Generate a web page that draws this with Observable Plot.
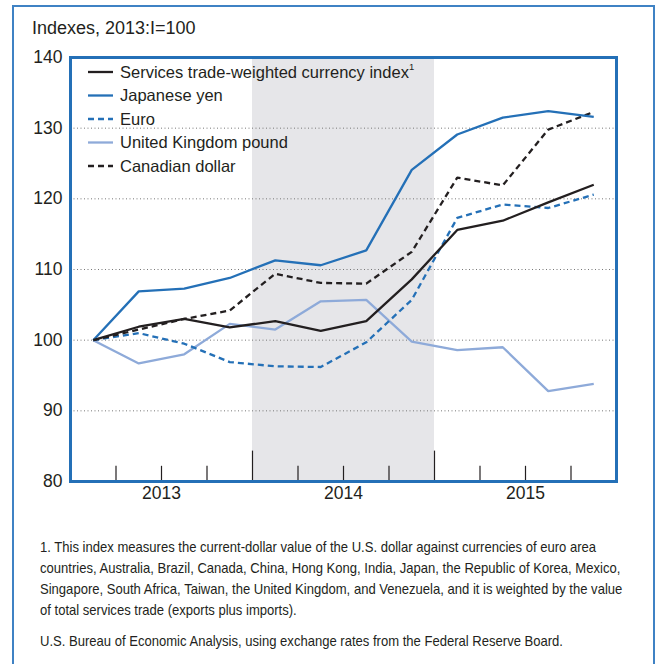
<!DOCTYPE html>
<html><head><meta charset="utf-8">
<script src="https://cdn.jsdelivr.net/npm/d3@7"></script>
<script src="https://cdn.jsdelivr.net/npm/@observablehq/plot@0.6"></script>
<style>
body{margin:0;background:#fff;font-family:"Liberation Sans",Arial,sans-serif;color:#231f20;}
#wrap{position:relative;width:655px;height:664px;overflow:hidden;}
#border{position:absolute;left:12px;top:5px;width:643px;height:720px;border:2px solid #3f82c4;box-sizing:border-box;}
#title{position:absolute;left:32px;top:18px;font-size:18px;}
#chart{position:absolute;left:0;top:0;}
.note{position:absolute;left:40px;font-size:14.5px;line-height:21px;white-space:nowrap;transform:scaleX(0.9);transform-origin:0 0;}
</style></head>
<body>
<div id="wrap">
<div id="border"></div>
<div id="chart"></div>
<div id="title">Indexes, 2013:I=100</div>
<div class="note" id="foot" style="top:537px">1. This index measures the current-dollar value of the U.S. dollar against currencies of euro area<br>countries, Australia, Brazil, Canada, China, Hong Kong, India, Japan, the Republic of Korea, Mexico,<br>Singapore, South Africa, Taiwan, the United Kingdom, and Venezuela, and it is weighted by the value<br>of total services trade (exports plus imports).</div>
<div class="note" id="src" style="top:631px">U.S. Bureau of Economic Analysis, using exchange rates from the Federal Reserve Board.</div>
</div>
<script>
const quarters = ["2013:I","2013:II","2013:III","2013:IV","2014:I","2014:II","2014:III","2014:IV","2015:I","2015:II","2015:III","2015:IV"];
const services = [100, 101.9, 103.0, 101.8, 102.7, 101.3, 102.7, 108.6, 115.6, 116.9, 119.5, 122.0];
const yen      = [100, 106.9, 107.3, 108.8, 111.3, 110.6, 112.7, 124.1, 129.1, 131.5, 132.4, 131.6];
const euro     = [100, 101.0, 99.5, 96.9, 96.3, 96.2, 99.7, 105.7, 117.3, 119.2, 118.7, 120.6];
const pound    = [100, 96.7, 98.0, 102.3, 101.5, 105.5, 105.7, 99.8, 98.6, 99.0, 92.8, 93.8];
const cad      = [100, 101.5, 103.0, 104.2, 109.4, 108.1, 108.0, 112.5, 123.0, 121.9, 129.8, 132.3];
const years = ["2013","2014","2015"];
const yTicks = [80, 90, 100, 110, 120, 130, 140];
const seriesNames = ["Services trade-weighted currency index","Japanese yen","Euro","United Kingdom pound","Canadian dollar"];

const BLUE = "#2470b7", LIGHT = "#8eaad9", BLACK = "#231f20";
const styles = [
  {stroke: BLACK, dash: null},
  {stroke: BLUE, dash: null},
  {stroke: BLUE, dash: "6,4"},
  {stroke: LIGHT, dash: null},
  {stroke: BLACK, dash: "6,4"}
];
const seriesValues = [services, yen, euro, pound, cad];

const rows = quarters.map((q, i) => ({i, q}));
const yearStart = years.map((y, k) => k * 4);
const yearCenter = years.map((y, k) => k * 4 + 2);
const qTicks = quarters.map((q, i) => i).filter(i => i > 0 && i % 4 !== 0);
const yrTicks = yearStart.filter(i => i > 0);

const lineMarks = [3, 2, 4, 1, 0].map(s => Plot.line(rows, {
  x: d => d.i + 0.5, y: d => seriesValues[s][d.i],
  stroke: styles[s].stroke, strokeWidth: 2.3,
  strokeDasharray: styles[s].dash, strokeLinejoin: "miter", strokeLinecap: "butt"
}));

const plot = Plot.plot({
  width: 655, height: 510,
  marginLeft: 70, marginRight: 39, marginTop: 57, marginBottom: 29,
  style: {fontFamily: "'Liberation Sans', Arial, sans-serif", fontSize: "17.5px", color: BLACK, background: "transparent"},
  x: {domain: [0, 12]},
  y: {domain: [80, 140]},
  marks: [
    Plot.rect([yearStart[1]], {x1: d => d, x2: d => d + 4, y1: 80, y2: 140, fill: "#e6e6e9"}),
    Plot.gridY(yTicks.slice(1, -1), {stroke: "#777", strokeOpacity: 1, strokeDasharray: "1,2.5", strokeWidth: 1}),
    Plot.ruleX(qTicks, {x: d => d, y1: 80, y2: 82.15, stroke: BLACK, strokeWidth: 1.2}),
    Plot.ruleX(yrTicks, {x: d => d, y1: 80, y2: 84.3, stroke: BLACK, strokeWidth: 1.2}),
    ...lineMarks,
    Plot.axisY(yTicks, {tickSize: 0, tickPadding: 8, fontSize: 17.5, fill: BLACK}),
    Plot.axisX(yearCenter, {tickSize: 0, tickPadding: 5, fontSize: 17.5, fill: BLACK, tickFormat: d => years[yearCenter.indexOf(d)]}),
    Plot.frame({stroke: BLUE, strokeWidth: 3})
  ]
});
document.getElementById("chart").appendChild(plot);

// legend inside the plot area
const svg = d3.select(plot);
const lg = svg.append("g").attr("font-size", 16.5).attr("text-anchor", "start")
  .attr("font-family", "'Liberation Sans', Arial, sans-serif");
seriesNames.forEach((name, k) => {
  const cy = 72 + k * 23.5;
  lg.append("line").attr("x1", 88).attr("x2", 113).attr("y1", cy).attr("y2", cy)
    .attr("stroke", styles[k].stroke).attr("stroke-width", 2.3)
    .attr("stroke-dasharray", styles[k].dash);
  const t = lg.append("text").attr("x", 120).attr("y", cy).attr("dy", "0.36em").attr("fill", BLACK).text(name);
  if (k === 0) t.append("tspan").attr("font-size", 9.5).attr("dy", "-0.85em").text("1");
});
</script>
</body></html>
